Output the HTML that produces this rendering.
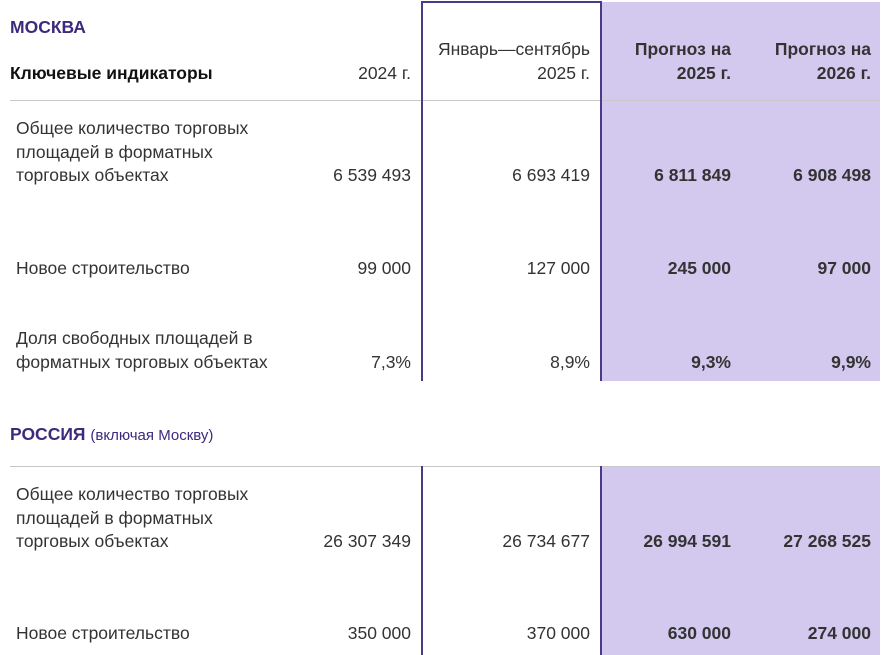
<!DOCTYPE html>
<html><head><meta charset="utf-8"><style>
body{margin:0;width:883px;height:655px;position:relative;background:#fff;font-family:"Liberation Sans",sans-serif;font-size:17.5px;color:#333;overflow:hidden}
div{position:absolute;line-height:23.5px;white-space:nowrap}
.r{text-align:right}
.b{font-weight:bold}
.p{color:#3d2a7d}
.fill{background:#d3c9ef}
.v{background:#4a3a8a;width:2px}
.h{background:#c8c8c8;height:1px}
</style></head><body>
<div class="fill" style="left:601px;top:2px;width:279px;height:379px"></div>
<div class="fill" style="left:601px;top:466px;width:279px;height:189px"></div>
<div class="h" style="left:10px;top:100px;width:870px"></div>
<div class="h" style="left:10px;top:466px;width:870px"></div>
<div class="v" style="left:421px;top:2px;height:379px"></div>
<div class="v" style="left:600px;top:2px;height:379px"></div>
<div style="left:421px;top:1px;width:181px;height:2px;background:#4a3a8a"></div>
<div class="v" style="left:421px;top:466px;height:189px"></div>
<div class="v" style="left:600px;top:466px;height:189px"></div>

<div class="b p" style="left:10px;top:16px">МОСКВА</div>
<div class="b" style="left:10px;top:62px;color:#111">Ключевые индикаторы</div>
<div class="r" style="right:472px;top:62px">2024 г.</div>
<div class="r" style="right:293px;top:38px">Январь—сентябрь<br>2025 г.</div>
<div class="r b" style="right:152px;top:38px">Прогноз на<br>2025 г.</div>
<div class="r b" style="right:12px;top:38px">Прогноз на<br>2026 г.</div>

<div style="left:16px;top:117px">Общее количество торговых<br>площадей в форматных<br>торговых объектах</div>
<div class="r" style="right:472px;top:164px">6 539 493</div>
<div class="r" style="right:293px;top:164px">6 693 419</div>
<div class="r b" style="right:152px;top:164px">6 811 849</div>
<div class="r b" style="right:12px;top:164px">6 908 498</div>

<div style="left:16px;top:257px">Новое строительство</div>
<div class="r" style="right:472px;top:257px">99 000</div>
<div class="r" style="right:293px;top:257px">127 000</div>
<div class="r b" style="right:152px;top:257px">245 000</div>
<div class="r b" style="right:12px;top:257px">97 000</div>

<div style="left:16px;top:327px">Доля свободных площадей в<br>форматных торговых объектах</div>
<div class="r" style="right:472px;top:351px">7,3%</div>
<div class="r" style="right:293px;top:351px">8,9%</div>
<div class="r b" style="right:152px;top:351px">9,3%</div>
<div class="r b" style="right:12px;top:351px">9,9%</div>

<div class="p" style="left:10px;top:423px"><b>РОССИЯ</b> <span style="font-size:15px">(включая Москву)</span></div>

<div style="left:16px;top:483px">Общее количество торговых<br>площадей в форматных<br>торговых объектах</div>
<div class="r" style="right:472px;top:530px">26 307 349</div>
<div class="r" style="right:293px;top:530px">26 734 677</div>
<div class="r b" style="right:152px;top:530px">26 994 591</div>
<div class="r b" style="right:12px;top:530px">27 268 525</div>

<div style="left:16px;top:622px">Новое строительство</div>
<div class="r" style="right:472px;top:622px">350 000</div>
<div class="r" style="right:293px;top:622px">370 000</div>
<div class="r b" style="right:152px;top:622px">630 000</div>
<div class="r b" style="right:12px;top:622px">274 000</div>
</body></html>
